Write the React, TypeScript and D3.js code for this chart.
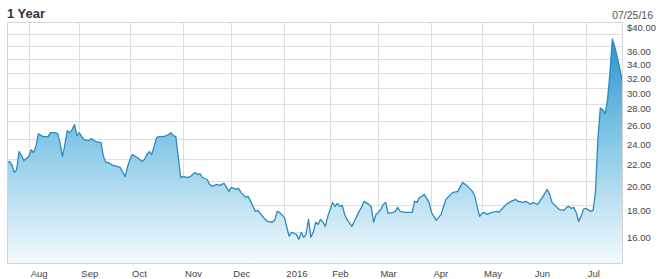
import React from 'react';
import * as d3 from 'd3';

// trading-day offset from the first point (Jul 2015) and closing price
const tradingDay = [
  0, 1, 2, 3, 4, 5, 6, 7, 9, 10, 11, 12, 13, 15, 16, 17, 18, 20, 21, 22, 23, 24, 25, 26, 27, 28, 29, 30, 31, 32,
  34, 35, 36, 37, 39, 40, 41, 42, 44, 46, 47, 48, 49, 50, 51, 52, 54, 56, 57, 58, 59, 60, 61, 62, 63, 65, 66, 67, 68, 69,
  70, 71, 72, 73, 75, 76, 78, 79, 80, 81, 83, 84, 85, 87, 88, 90, 91, 92, 93, 95, 96, 97, 99, 100, 101, 102, 103, 104, 106, 107,
  108, 110, 111, 112, 113, 115, 116, 117, 118, 120, 121, 122, 123, 124, 125, 126, 127, 128, 129, 130, 131, 132, 133, 134, 135, 136, 137, 138, 139, 140,
  141, 143, 145, 146, 147, 148, 150, 151, 152, 153, 154, 155, 156, 157, 158, 160, 161, 162, 163, 165, 166, 168, 169, 170, 171, 172, 173, 175, 176, 177,
  178, 180, 181, 182, 184, 185, 187, 188, 189, 191, 193, 194, 195, 196, 197, 198, 199, 201, 203, 204, 205, 207, 209, 211, 212, 214, 215, 216, 217, 218,
  219, 220, 222, 224, 225, 226, 228, 229, 231, 232, 233, 234, 235, 236, 237, 238, 239, 240, 242, 243, 244, 245, 246, 247, 248, 249, 250, 251, 252, 253,
  254, 255,
];
const close = [
  21.69, 21.78, 21.5, 20.77, 21.03, 22.75, 22.36, 21.88, 22.26, 22.94, 22.65, 23.25, 24.59, 24.28, 24.28, 24.28, 24.7, 24.7, 24.59, 23.65, 22.26, 23.45, 24.92, 24.7, 25.03, 25.58, 24.38, 24.7, 24.28, 23.96,
  23.86, 24.07, 23.86, 23.76, 23.65, 22.26, 21.69, 21.69, 21.41, 21.31, 21.22, 20.77, 20.4, 21.31, 21.97, 22.46, 22.17, 21.78, 21.97, 22.46, 22.75, 22.46, 23.25, 24.17, 24.28, 24.28, 24.38, 24.49, 24.7, 24.38,
  24.28, 22.26, 20.32, 20.4, 20.32, 20.4, 20.77, 20.58, 20.67, 20.32, 20.14, 19.72, 19.55, 19.72, 19.63, 19.8, 19.46, 19.13, 19.46, 19.29, 19.38, 19.04, 18.63, 18.71, 18.31, 17.91, 17.53, 17.6, 17.15, 16.93,
  16.79, 16.72, 16.86, 17.53, 17.45, 17.08, 16.36, 15.73, 16.0, 15.86, 15.52, 16.0, 15.66, 15.86, 16.93, 15.66, 16.0, 16.72, 16.56, 16.93, 16.72, 16.42, 17.15, 17.68, 18.23, 17.91, 18.15, 17.91, 17.99, 17.3,
  16.93, 16.42, 17.15, 17.53, 17.84, 18.31, 18.07, 17.91, 16.72, 17.3, 17.45, 17.68, 18.07, 18.23, 17.38, 17.45, 17.53, 17.84, 17.53, 17.45, 17.45, 17.45, 18.31, 18.23, 18.63, 18.71, 18.88, 18.23, 17.45, 17.15,
  16.86, 17.3, 17.91, 18.47, 18.88, 19.04, 19.13, 19.55, 19.89, 19.55, 19.13, 18.71, 17.84, 17.15, 17.38, 17.45, 17.3, 17.45, 17.53, 17.45, 17.68, 18.07, 18.31, 18.47, 18.31, 18.23, 18.31, 18.23, 18.07, 18.23,
  18.15, 18.07, 18.63, 19.29, 18.88, 18.23, 17.84, 17.68, 17.6, 17.84, 17.91, 17.76, 17.84, 17.45, 16.79, 17.15, 17.68, 17.76, 17.53, 17.6, 19.04, 23.96, 27.5, 27.3, 26.8, 28.51, 32.06, 37.15, 35.9, 34.4,
  32.8, 31.1,
];

const monthLabels = ['Aug', 'Sep', 'Oct', 'Nov', 'Dec', '2016', 'Feb', 'Mar', 'Apr', 'May', 'Jun', 'Jul'];
const monthStartDay = [9, 30, 51, 73, 93, 115, 134, 154, 176, 197, 218, 240];
const gridPrices = [16, 18, 20, 22, 24, 26, 28, 30, 32, 34, 36, 38, 40];
const labelPrices = [40, 36, 34, 32, 30, 28, 26, 24, 22, 20, 18, 16];
const lastDay = 255;
const priceMin = 14;
const priceMax = 40;
const title = '1 Year';
const asOfDate = '07/25/16';

export default function App() {
  const W = 660;
  const H = 279;
  const left = 7;
  const right = 622;
  const top = 22;
  const bottom = 263;
  const font = '"Liberation Sans", Arial, sans-serif';

  const x = d3.scaleLinear().domain([0, lastDay]).range([left, right]);
  const y = d3.scaleLog().domain([priceMin, priceMax]).range([bottom, top]);

  const pts: [number, number][] = tradingDay.map((d, i) => [d, close[i]]);
  const lineGen = d3
    .line<[number, number]>()
    .x((d) => x(d[0]))
    .y((d) => y(d[1]));
  const areaGen = d3
    .area<[number, number]>()
    .x((d) => x(d[0]))
    .y0(bottom)
    .y1((d) => y(d[1]));

  const crisp = (v: number) => Math.round(v) + 0.5;

  return (
    <svg
      width={W}
      height={H}
      viewBox={`0 0 ${W} ${H}`}
      style={{ position: 'absolute', left: 0, top: 0, background: '#fff' }}
    >
      <defs>
        <linearGradient id="fillGrad" gradientUnits="userSpaceOnUse" x1="0" y1={top} x2="0" y2={bottom}>
          <stop offset="0" stopColor="#1c8cc8" />
          <stop offset="0.45" stopColor="#7cc3e5" />
          <stop offset="1" stopColor="#f4fafd" />
        </linearGradient>
      </defs>
      <rect x={0} y={0} width={W} height={H} fill="#fff" />
      {gridPrices.map((p) => (
        <line
          key={'h' + p}
          x1={left}
          x2={right}
          y1={crisp(y(p))}
          y2={crisp(y(p))}
          stroke="#dedede"
          strokeWidth={1}
        />
      ))}
      {monthStartDay.map((d, i) => (
        <line
          key={'v' + i}
          x1={crisp(x(d))}
          x2={crisp(x(d))}
          y1={top}
          y2={bottom}
          stroke="#dedede"
          strokeWidth={1}
        />
      ))}
      <path d={areaGen(pts) || ''} fill="url(#fillGrad)" />
      <path d={lineGen(pts) || ''} fill="none" stroke="#2a8abf" strokeWidth={1.3} strokeLinejoin="round" />
      <rect
        x={left + 0.5}
        y={top + 0.5}
        width={right - left}
        height={bottom - top}
        fill="none"
        stroke="#d6d6d6"
        strokeWidth={1}
      />
      <text x={7} y={18} fontFamily={font} fontSize={13} fontWeight="bold" fill="#333">
        {title}
      </text>
      <text x={653} y={18.5} fontFamily={font} fontSize={10.5} fill="#555" textAnchor="end">
        {asOfDate}
      </text>
      {labelPrices.map((p) => (
        <text key={'yl' + p} x={627} y={y(p) + 8.5} fontFamily={font} fontSize={9.5} fill="#444">
          {(p === priceMax ? '$' : '') + p.toFixed(2)}
        </text>
      ))}
      {monthStartDay.map((d, i) => (
        <text key={'xl' + i} x={x(d) + 2} y={277} fontFamily={font} fontSize={9.5} fill="#444">
          {monthLabels[i]}
        </text>
      ))}
    </svg>
  );
}
